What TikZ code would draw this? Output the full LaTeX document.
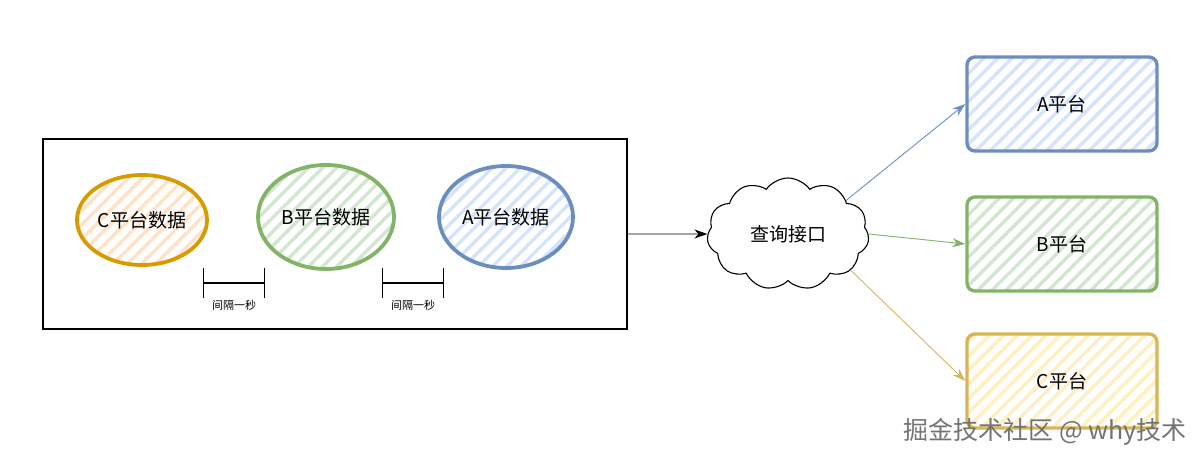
\documentclass[tikz,border=0pt]{standalone}
\usepackage{fontspec}
\newfontfamily\cjk{Noto Sans CJK SC}
\usetikzlibrary{shapes.geometric, shapes.symbols, arrows.meta, positioning, patterns.meta}

\definecolor{orgline}{HTML}{D79B00}
\definecolor{orgfill}{HTML}{FFE2C7}
\definecolor{grnline}{HTML}{82B366}
\definecolor{grnfill}{HTML}{D3E6D1}
\definecolor{bluline}{HTML}{6C8EBF}
\definecolor{blufill}{HTML}{D6E4FB}
\definecolor{ylwline}{HTML}{D6B656}
\definecolor{ylwfill}{HTML}{FFF0C2}

\begin{document}
\begin{tikzpicture}[x=1pt,y=-1pt,
  hatch/.style={pattern={Lines[angle=45,distance=10pt,line width=3.5pt]},pattern color=#1},
  data/.style={ellipse,line width=3.8pt,inner sep=0pt,font=\cjk\fontsize{19}{22}\selectfont},
  plat/.style={rectangle,rounded corners=8pt,line width=3.4pt,minimum width=190pt,minimum height=94pt,font=\cjk\fontsize{19}{22}\selectfont},
  gap/.style={{Bar[width=30pt]}-{Bar[width=30pt]},line width=1.3pt},
  gaplbl/.style={font=\cjk\fontsize{11}{13}\selectfont,inner sep=1pt},
  link/.style={-{Stealth[length=13pt,width=9pt]},line width=0.9pt}
]
  \useasboundingbox (0,0) rectangle (1203,462);
  \node[draw,line width=1.3pt,minimum width=584pt,minimum height=190pt](box) at (335,234) {};
  \node[data,draw=orgline,hatch=orgfill,minimum width=130pt,minimum height=90pt](cd) at (142,220) {C平台数据};
  \node[data,draw=grnline,hatch=grnfill,minimum width=136pt,minimum height=104pt](bd) at (326,217) {B平台数据};
  \node[data,draw=bluline,hatch=blufill,minimum width=134pt,minimum height=102pt](ad) at (506,217) {A平台数据};
  % interval markers
  \coordinate (g1l) at (203,283);
  \coordinate (g1r) at (265,283);
  \coordinate (g2l) at (382,283);
  \coordinate (g2r) at (444,283);
  \draw[gap](g1l)--(g1r);
  \draw[gap](g2l)--(g2r);
  \node[gaplbl](t1) at (234,305) {间隔一秒};
  \node[gaplbl](t2) at (413,305) {间隔一秒};
  % query interface
  \node[cloud,draw,cloud puffs=11,cloud puff arc=110,aspect=1.6,line width=1.1pt,minimum width=162pt,minimum height=112pt,font=\cjk\fontsize{19}{22}\selectfont](api) at (788,234) {查询接口};
  \node[plat,draw=bluline,hatch=blufill](pa) at (1062,104) {A平台};
  \node[plat,draw=grnline,hatch=grnfill](pb) at (1062,244) {B平台};
  \node[plat,draw=ylwline,hatch=ylwfill](pc) at (1062,381) {C平台};
  \draw[link](box.east)--(api.west);
  \draw[link,bluline](api.30)--(pa.west);
  \draw[link,grnline](api.east)--(pb.west);
  \draw[link,ylwline](api.-30)--(pc.west);
  % watermark
  \node[font=\cjk\fontsize{25}{28}\selectfont,text=black!55,inner sep=0pt](wm) at (1045,432) {掘金技术社区 @ why技术};
\end{tikzpicture}
\end{document}
